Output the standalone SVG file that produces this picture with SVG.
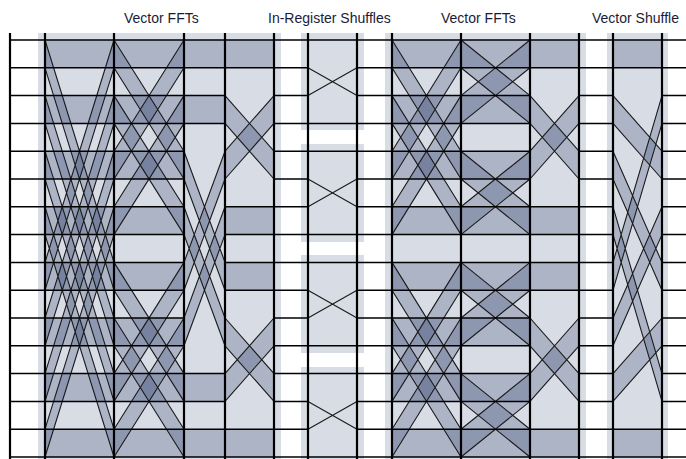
<svg xmlns="http://www.w3.org/2000/svg" width="686" height="459" viewBox="0 0 686 459">
<style>
.bg{fill:#d8dce4}
.s{fill:#3b4a75;fill-opacity:0.27}
.h{stroke:#000;stroke-width:1.5;fill:none}
.v{stroke:#000;stroke-width:2.2;fill:none}
.w{stroke:#1a1a1a;stroke-width:1.1;fill:none}
.t{font-family:"Liberation Sans",Arial,sans-serif;font-size:14px;fill:#1b1b38}
</style>
<rect width="686" height="459" fill="#fff"/>
<g id="backgrounds">
<rect class="bg" x="38" y="33" width="243" height="426"/>
<rect class="bg" x="301" y="33" width="63" height="97"/>
<rect class="bg" x="301" y="144" width="63" height="98"/>
<rect class="bg" x="301" y="255" width="63" height="98"/>
<rect class="bg" x="301" y="367" width="63" height="92"/>
<rect class="bg" x="385" y="33" width="201" height="426"/>
<rect class="bg" x="607" y="33" width="61" height="426"/>
</g>
<g id="stage1" class="s">
<rect x="45" y="40" width="69" height="27.8"/><rect x="45" y="95.6" width="69" height="27.8"/><rect x="45" y="151.2" width="69" height="27.8"/><rect x="45" y="206.8" width="69" height="27.8"/><rect x="45" y="262.4" width="69" height="27.8"/><rect x="45" y="318" width="69" height="27.8"/><rect x="45" y="373.6" width="69" height="27.8"/><rect x="45" y="429.2" width="69" height="27.8"/>
<polygon points="45,40 114,262.4 114,290.2 45,67.8"/>
<polygon points="45,95.6 114,318 114,345.8 45,123.4"/>
<polygon points="45,151.2 114,373.6 114,401.4 45,179"/>
<polygon points="45,206.8 114,429.2 114,457 45,234.6"/>
<polygon points="45,262.4 114,40 114,67.8 45,290.2"/>
<polygon points="45,318 114,95.6 114,123.4 45,345.8"/>
<polygon points="45,373.6 114,151.2 114,179 45,401.4"/>
<polygon points="45,429.2 114,206.8 114,234.6 45,457"/>
</g>
<g id="stage2" class="s">
<rect x="114" y="40" width="70" height="27.8"/><rect x="114" y="95.6" width="70" height="27.8"/><rect x="114" y="151.2" width="70" height="27.8"/><rect x="114" y="206.8" width="70" height="27.8"/><rect x="114" y="262.4" width="70" height="27.8"/><rect x="114" y="318" width="70" height="27.8"/><rect x="114" y="373.6" width="70" height="27.8"/><rect x="114" y="429.2" width="70" height="27.8"/>
<polygon points="114,40 184,151.2 184,179 114,67.8"/>
<polygon points="114,95.6 184,206.8 184,234.6 114,123.4"/>
<polygon points="114,151.2 184,40 184,67.8 114,179"/>
<polygon points="114,206.8 184,95.6 184,123.4 114,234.6"/>
<polygon points="114,262.4 184,373.6 184,401.4 114,290.2"/>
<polygon points="114,318 184,429.2 184,457 114,345.8"/>
<polygon points="114,373.6 184,262.4 184,290.2 114,401.4"/>
<polygon points="114,429.2 184,318 184,345.8 114,457"/>
</g>
<g id="stage3" class="s">
<rect x="184" y="40" width="41" height="27.8"/><rect x="184" y="95.6" width="41" height="27.8"/><rect x="184" y="373.6" width="41" height="27.8"/><rect x="184" y="429.2" width="41" height="27.8"/>
<polygon points="184,151.2 225,262.4 225,290.2 184,179"/>
<polygon points="184,206.8 225,318 225,345.8 184,234.6"/>
<polygon points="184,262.4 225,151.2 225,179 184,290.2"/>
<polygon points="184,318 225,206.8 225,234.6 184,345.8"/>
</g>
<g id="stage4" class="s">
<rect x="225" y="40" width="49" height="27.8"/><rect x="225" y="206.8" width="49" height="27.8"/><rect x="225" y="262.4" width="49" height="27.8"/><rect x="225" y="429.2" width="49" height="27.8"/>
<polygon points="225,95.6 274,151.2 274,179 225,123.4"/>
<polygon points="225,151.2 274,95.6 274,123.4 225,179"/>
<polygon points="225,318 274,373.6 274,401.4 225,345.8"/>
<polygon points="225,373.6 274,318 274,345.8 225,401.4"/>
</g>
<g id="stage5" class="s">
<rect x="392" y="40" width="69" height="27.8"/><rect x="392" y="95.6" width="69" height="27.8"/><rect x="392" y="151.2" width="69" height="27.8"/><rect x="392" y="206.8" width="69" height="27.8"/><rect x="392" y="262.4" width="69" height="27.8"/><rect x="392" y="318" width="69" height="27.8"/><rect x="392" y="373.6" width="69" height="27.8"/><rect x="392" y="429.2" width="69" height="27.8"/>
<polygon points="392,40 461,151.2 461,179 392,67.8"/>
<polygon points="392,95.6 461,206.8 461,234.6 392,123.4"/>
<polygon points="392,151.2 461,40 461,67.8 392,179"/>
<polygon points="392,206.8 461,95.6 461,123.4 392,234.6"/>
<polygon points="392,262.4 461,373.6 461,401.4 392,290.2"/>
<polygon points="392,318 461,429.2 461,457 392,345.8"/>
<polygon points="392,373.6 461,262.4 461,290.2 392,401.4"/>
<polygon points="392,429.2 461,318 461,345.8 392,457"/>
</g>
<g id="stage6" class="s">
<rect x="461" y="40" width="69" height="27.8"/><rect x="461" y="95.6" width="69" height="27.8"/><rect x="461" y="151.2" width="69" height="27.8"/><rect x="461" y="206.8" width="69" height="27.8"/><rect x="461" y="262.4" width="69" height="27.8"/><rect x="461" y="318" width="69" height="27.8"/><rect x="461" y="373.6" width="69" height="27.8"/><rect x="461" y="429.2" width="69" height="27.8"/>
<polygon points="461,40 530,95.6 530,123.4 461,67.8"/>
<polygon points="461,95.6 530,40 530,67.8 461,123.4"/>
<polygon points="461,151.2 530,206.8 530,234.6 461,179"/>
<polygon points="461,206.8 530,151.2 530,179 461,234.6"/>
<polygon points="461,262.4 530,318 530,345.8 461,290.2"/>
<polygon points="461,318 530,262.4 530,290.2 461,345.8"/>
<polygon points="461,373.6 530,429.2 530,457 461,401.4"/>
<polygon points="461,429.2 530,373.6 530,401.4 461,457"/>
</g>
<g id="stage7" class="s">
<rect x="530" y="40" width="49" height="27.8"/><rect x="530" y="206.8" width="49" height="27.8"/><rect x="530" y="262.4" width="49" height="27.8"/><rect x="530" y="429.2" width="49" height="27.8"/>
<polygon points="530,95.6 579,151.2 579,179 530,123.4"/>
<polygon points="530,151.2 579,95.6 579,123.4 530,179"/>
<polygon points="530,318 579,373.6 579,401.4 530,345.8"/>
<polygon points="530,373.6 579,318 579,345.8 530,401.4"/>
</g>
<g id="stage8" class="s">
<rect x="613" y="40" width="49" height="27.8"/><rect x="613" y="429.2" width="49" height="27.8"/>
<polygon points="613,95.6 662,151.2 662,179 613,123.4"/>
<polygon points="613,151.2 662,262.4 662,290.2 613,179"/>
<polygon points="613,206.8 662,373.6 662,401.4 613,234.6"/>
<polygon points="613,262.4 662,95.6 662,123.4 613,290.2"/>
<polygon points="613,318 662,206.8 662,234.6 613,345.8"/>
<polygon points="613,373.6 662,318 662,345.8 613,401.4"/>
</g>
<g id="connectors">
<path class="w" d="M45,40L114,262.4M45,67.8L114,290.2M45,95.6L114,318M45,123.4L114,345.8M45,151.2L114,373.6M45,179L114,401.4M45,206.8L114,429.2M45,234.6L114,457M45,262.4L114,40M45,290.2L114,67.8M45,318L114,95.6M45,345.8L114,123.4M45,373.6L114,151.2M45,401.4L114,179M45,429.2L114,206.8M45,457L114,234.6"/>
<path class="w" d="M114,40L184,151.2M114,67.8L184,179M114,95.6L184,206.8M114,123.4L184,234.6M114,151.2L184,40M114,179L184,67.8M114,206.8L184,95.6M114,234.6L184,123.4M114,262.4L184,373.6M114,290.2L184,401.4M114,318L184,429.2M114,345.8L184,457M114,373.6L184,262.4M114,401.4L184,290.2M114,429.2L184,318M114,457L184,345.8"/>
<path class="w" d="M184,151.2L225,262.4M184,179L225,290.2M184,206.8L225,318M184,234.6L225,345.8M184,262.4L225,151.2M184,290.2L225,179M184,318L225,206.8M184,345.8L225,234.6"/>
<path class="w" d="M225,95.6L274,151.2M225,123.4L274,179M225,151.2L274,95.6M225,179L274,123.4M225,318L274,373.6M225,345.8L274,401.4M225,373.6L274,318M225,401.4L274,345.8"/>
<path class="w" d="M308,67.8L357,95.6M308,95.6L357,67.8M308,179L357,206.8M308,206.8L357,179M308,290.2L357,318M308,318L357,290.2M308,401.4L357,429.2M308,429.2L357,401.4"/>
<path class="w" d="M392,40L461,151.2M392,67.8L461,179M392,95.6L461,206.8M392,123.4L461,234.6M392,151.2L461,40M392,179L461,67.8M392,206.8L461,95.6M392,234.6L461,123.4M392,262.4L461,373.6M392,290.2L461,401.4M392,318L461,429.2M392,345.8L461,457M392,373.6L461,262.4M392,401.4L461,290.2M392,429.2L461,318M392,457L461,345.8"/>
<path class="w" d="M461,40L530,95.6M461,67.8L530,123.4M461,95.6L530,40M461,123.4L530,67.8M461,151.2L530,206.8M461,179L530,234.6M461,206.8L530,151.2M461,234.6L530,179M461,262.4L530,318M461,290.2L530,345.8M461,318L530,262.4M461,345.8L530,290.2M461,373.6L530,429.2M461,401.4L530,457M461,429.2L530,373.6M461,457L530,401.4"/>
<path class="w" d="M530,95.6L579,151.2M530,123.4L579,179M530,151.2L579,95.6M530,179L579,123.4M530,318L579,373.6M530,345.8L579,401.4M530,373.6L579,318M530,401.4L579,345.8"/>
<path class="w" d="M613,95.6L662,151.2M613,123.4L662,179M613,151.2L662,262.4M613,179L662,290.2M613,206.8L662,373.6M613,234.6L662,401.4M613,262.4L662,95.6M613,290.2L662,123.4M613,318L662,206.8M613,345.8L662,234.6M613,373.6L662,318M613,401.4L662,345.8"/>
<path class="h" d="M10,40H686M10,67.8H308M357,67.8H686M10,95.6H225M274,95.6H308M357,95.6H530M579,95.6H613M662,95.6H686M10,123.4H225M274,123.4H530M579,123.4H613M662,123.4H686M10,151.2H184M274,151.2H530M579,151.2H613M662,151.2H686M10,179H184M274,179H308M357,179H530M579,179H613M662,179H686M10,206.8H184M225,206.8H308M357,206.8H613M662,206.8H686M10,234.6H184M225,234.6H613M662,234.6H686M10,262.4H184M225,262.4H613M662,262.4H686M10,290.2H184M225,290.2H308M357,290.2H613M662,290.2H686M10,318H184M274,318H308M357,318H530M579,318H613M662,318H686M10,345.8H184M274,345.8H530M579,345.8H613M662,345.8H686M10,373.6H225M274,373.6H530M579,373.6H613M662,373.6H686M10,401.4H225M274,401.4H308M357,401.4H530M579,401.4H613M662,401.4H686M10,429.2H308M357,429.2H686M10,457H686"/>
<path class="v" d="M10,33V459M45,33V459M114,33V459M184,33V459M225,33V459M274,33V459M308,33V459M357,33V459M392,33V459M461,33V459M530,33V459M579,33V459M613,33V459M662,33V459"/>
</g>
<g id="labels">
<text class="t" x="124" y="23">Vector FFTs</text>
<text class="t" x="268" y="23">In-Register Shuffles</text>
<text class="t" x="441" y="23">Vector FFTs</text>
<text class="t" x="592" y="23">Vector Shuffle</text>
</g>
</svg>
